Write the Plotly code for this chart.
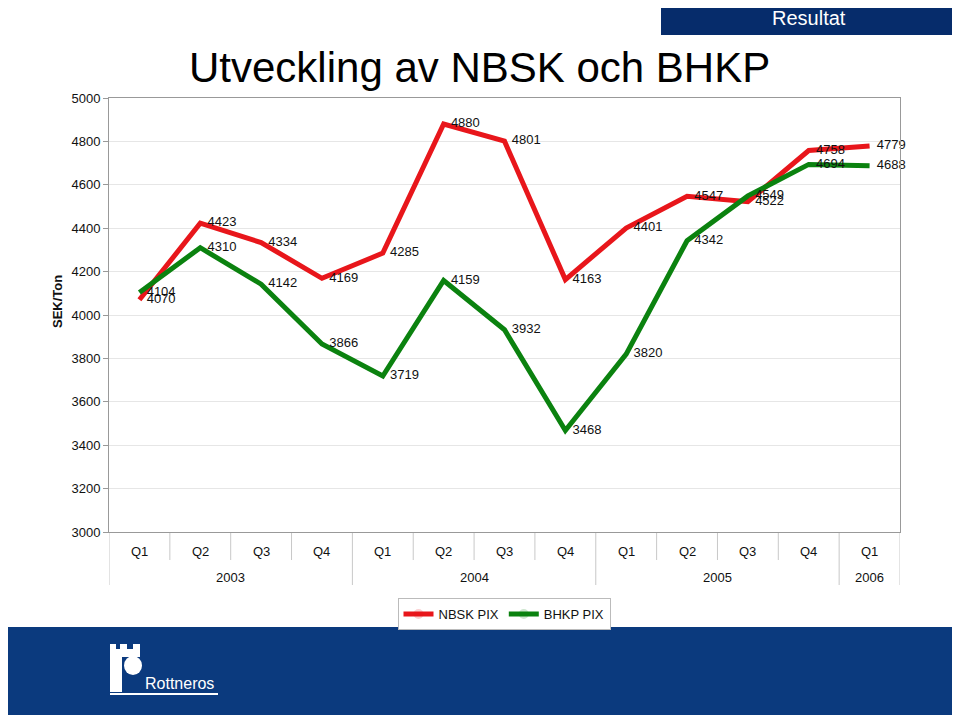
import plotly.graph_objects as go

# ---- data ----
quarters = ["Q1", "Q2", "Q3", "Q4", "Q1", "Q2", "Q3", "Q4", "Q1", "Q2", "Q3", "Q4", "Q1"]
years = ["2003", "2004", "2005", "2006"]
quarters_per_year = [4, 4, 4, 1]
nbsk_pix = [4070, 4423, 4334, 4169, 4285, 4880, 4801, 4163, 4401, 4547, 4522, 4758, 4779]
bhkp_pix = [4104, 4310, 4142, 3866, 3719, 4159, 3932, 3468, 3820, 4342, 4549, 4694, 4688]
y_ticks = [3000, 3200, 3400, 3600, 3800, 4000, 4200, 4400, 4600, 4800, 5000]

W, H = 960, 716
OFF = 8  # page body margin in the browser
FONT = "Liberation Sans, Arial, sans-serif"


def px(x):
    return (x - OFF) / W


def py(y):
    return 1 - (y - OFF) / H


idx = list(range(len(quarters)))

fig = go.Figure()
fig.add_trace(go.Scatter(
    x=idx, y=nbsk_pix, name="NBSK PIX", mode="lines+markers+text",
    line=dict(color="#e8161b", width=5), marker=dict(size=10, opacity=0),
    text=[str(v) for v in nbsk_pix], textposition="middle right",
    textfont=dict(size=13, color="#111", family=FONT), cliponaxis=False,
))
fig.add_trace(go.Scatter(
    x=idx, y=bhkp_pix, name="BHKP PIX", mode="lines+markers+text",
    line=dict(color="#0b820f", width=5), marker=dict(size=10, opacity=0),
    text=[str(v) for v in bhkp_pix], textposition="middle right",
    textfont=dict(size=13, color="#111", family=FONT), cliponaxis=False,
))

shapes = []
annotations = []


def note(x, y, text, size, color="#111", xref="paper", **kw):
    d = dict(x=x, y=y, xref=xref, yref="paper", text=text, showarrow=False,
             xanchor="center", yanchor="middle",
             font=dict(size=size, color=color, family=FONT))
    d.update(kw)
    annotations.append(d)


# category table separators
bounds = [i - 0.5 for i in range(len(quarters) + 1)]
year_bounds = {-0.5}
acc = 0
for n in quarters_per_year:
    acc += n
    year_bounds.add(acc - 0.5)
for b in bounds:
    y_end = 585 if b in year_bounds else 560
    shapes.append(dict(type="line", xref="x", yref="paper", x0=b, x1=b,
                       y0=py(533), y1=py(y_end), line=dict(color="#c8c8c8", width=1)))

for i, q in enumerate(quarters):
    note(i, py(551), q, 13, xref="x")
start = 0
for yr, n in zip(years, quarters_per_year):
    note(start + (n - 1) / 2, py(577), yr, 13, xref="x")
    start += n

# y-axis title
note(px(57), py(302), "<b>SEK/Ton</b>", 13, textangle=-90)

# main title
note(px(479), py(68), "Utveckling av NBSK och BHKP", 42, color="#000")

# Resultat box
shapes.append(dict(type="rect", xref="paper", yref="paper", x0=px(661), x1=px(957),
                   y0=py(35), y1=py(1), fillcolor="#062c6b", line=dict(width=0)))
note(px(809), py(18), "Resultat", 20, color="white")

# bottom band
shapes.append(dict(type="rect", xref="paper", yref="paper", x0=px(5), x1=px(960),
                   y0=py(715), y1=py(627), fillcolor="#0b3a7e", line=dict(width=0), layer="below"))


def prect(x0, y0, x1, y1):
    shapes.append(dict(type="rect", xref="paper", yref="paper", x0=px(x0), x1=px(x1),
                       y0=py(y1), y1=py(y0), fillcolor="white", line=dict(width=0)))


# logo
prect(110, 644, 116, 650)
prect(120, 644, 127, 650)
prect(133, 644, 140, 650)
prect(110, 649, 140, 657)
prect(110, 656, 122, 692)
shapes.append(dict(type="circle", xref="paper", yref="paper", x0=px(124), x1=px(142),
                   y0=py(675), y1=py(656), fillcolor="white", line=dict(width=0)))
prect(110, 693, 218, 695)
note(px(143), py(683), "Rottneros", 16, color="white", xanchor="left")

fig.update_layout(
    width=W, height=H,
    margin=dict(l=0, r=0, t=0, b=0, pad=0, autoexpand=False),
    paper_bgcolor="white", plot_bgcolor="white",
    font=dict(family=FONT, color="#111"),
    xaxis=dict(domain=[px(109), px(900)], range=[-0.5, 12.5], showticklabels=False,
               showgrid=False, zeroline=False, showline=True, linecolor="#999", mirror=True,
               ticks="", automargin=False),
    yaxis=dict(domain=[py(532), py(98)], range=[3000, 5000], tickvals=y_ticks,
               showgrid=True, gridcolor="#e6e6e6", zeroline=False, showline=True,
               linecolor="#999", mirror=True, ticks="outside", ticklen=5, tickcolor="#999",
               tickfont=dict(size=13, color="#111", family=FONT), automargin=False),
    legend=dict(orientation="h", x=px(504), xanchor="center", y=py(598), yanchor="top",
                bordercolor="#bbb", borderwidth=1, font=dict(size=13, color="#111", family=FONT),
                itemwidth=30, traceorder="normal", tracegroupgap=0),
    shapes=shapes, annotations=annotations,
    showlegend=True,
)

fig.write_html("out.html")
